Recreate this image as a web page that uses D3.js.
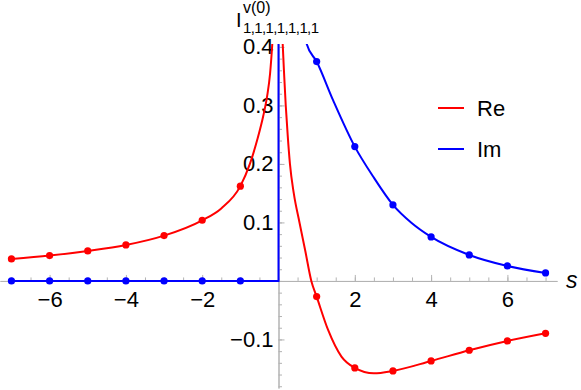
<!DOCTYPE html>
<html>
<head>
<meta charset="utf-8">
<script src="https://cdn.jsdelivr.net/npm/d3@7"></script>
<style>
  body { margin: 0; background: #fff; }
  svg { display: block; font-family: "Liberation Sans", Arial, sans-serif; }
</style>
</head>
<body>
<svg id="chart" width="581" height="390"></svg>
<script>
// sample points (integer s)
const markerS = [-7, -6, -5, -4, -3, -2, -1, 1, 2, 3, 4, 5, 6, 7];
const reMarkers = [0.0376, 0.0433, 0.0513, 0.0615, 0.0775, 0.1037, 0.162, -0.0268, -0.1487, -0.1538, -0.1368, -0.1185, -0.1026, -0.0895];
const imMarkers = [0, 0, 0, 0, 0, 0, 0, 0.375, 0.2296, 0.130, 0.0752, 0.0444, 0.0256, 0.0137];

// curves
const reLeftS = [-7, -6, -5, -4, -3, -2, -1.5, -1, -0.75, -0.55, -0.4, -0.3, -0.22, -0.163, -0.14];
const reLeftV = [0.0376, 0.0433, 0.0513, 0.0615, 0.0775, 0.1037, 0.124, 0.162, 0.200, 0.243, 0.282, 0.315, 0.355, 0.405, 0.43];
const reRightS = [0.095, 0.11, 0.15, 0.19, 0.24, 0.30, 0.40, 0.55, 0.70, 0.86, 1, 1.3, 1.65, 2, 2.5, 3, 4, 5, 6, 7];
const reRightV = [0.43, 0.405, 0.35, 0.30, 0.25, 0.20, 0.15, 0.10, 0.052, 0.0, -0.0268, -0.0838, -0.1294, -0.1487, -0.158, -0.1538, -0.1368, -0.1185, -0.1026, -0.0895];
const imLeftS = [-7, 0, 0];
const imLeftV = [0, 0, 0.43];
const imRightS = [0.70, 0.74, 1, 1.43, 2, 2.485, 3, 3.49, 4, 5, 6, 7];
const imRightV = [0.43, 0.405, 0.375, 0.309, 0.2296, 0.178, 0.130, 0.099, 0.0752, 0.0444, 0.0256, 0.0137];

const xTicks = [-6, -4, -2, 2, 4, 6];
const yTicks = [-0.1, 0.1, 0.2, 0.3, 0.4];
const xMinor = d3.range(-7, 7.01, 0.5);
const yMinor = d3.range(-0.18, 0.401, 0.02);

const seriesNames = ["Re", "Im"];
const seriesColors = ["#ff0000", "#0000ff"];

const svg = d3.select("#chart");

const x = d3.scaleLinear().domain([-7.3, 7.3]).range([0, 557]);
const y = d3.scaleLinear().domain([-0.183, 0.405]).range([388, 44]);

const fmt = d => (d < 0 ? "\u2212" : "") + Math.abs(d);

// axes
const axisColor = "#b3b3b3";

const xAxis = svg.append("g")
  .attr("transform", `translate(0,${y(0)})`)
  .call(d3.axisBottom(x).tickValues(xTicks).tickFormat(fmt).tickSizeInner(-6).tickSizeOuter(0).tickPadding(10));
const xMinorAxis = svg.append("g")
  .attr("transform", `translate(0,${y(0)})`)
  .call(d3.axisBottom(x).tickValues(xMinor).tickFormat("").tickSizeInner(-3.5).tickSizeOuter(0));

const yAxis = svg.append("g")
  .attr("transform", `translate(${x(0)},0)`)
  .call(d3.axisLeft(y).tickValues(yTicks).tickFormat(fmt).tickSizeInner(-6).tickSizeOuter(0).tickPadding(5));
const yMinorAxis = svg.append("g")
  .attr("transform", `translate(${x(0)},0)`)
  .call(d3.axisLeft(y).tickValues(yMinor).tickFormat("").tickSizeInner(-3.5).tickSizeOuter(0));

[xAxis, xMinorAxis, yAxis, yMinorAxis].forEach(g => {
  g.selectAll("path.domain").attr("stroke", axisColor).attr("stroke-width", 1);
  g.selectAll(".tick line").attr("stroke", axisColor);
  g.selectAll("text").attr("fill", "#000").style("font-size", "22px").style("font-family", "Liberation Sans, Arial, sans-serif");
});

// axis labels
svg.append("text")
  .attr("x", 566).attr("y", 288)
  .style("font-size", "23px").style("font-style", "italic")
  .text("s");

const yl = svg.append("g");
yl.append("text").attr("x", 236).attr("y", 27).style("font-size", "20px").text("I");
yl.append("text").attr("x", 243).attr("y", 13).style("font-size", "16px").text("v(0)");
yl.append("text").attr("x", 243).attr("y", 33).style("font-size", "15px")
  .attr("textLength", 76).attr("lengthAdjust", "spacing").text("1,1,1,1,1,1,1");

// clip to plot area
svg.append("clipPath").attr("id", "clip")
  .append("rect").attr("x", 0).attr("y", y.range()[1]).attr("width", 581).attr("height", 390 - y.range()[1]);

const plot = svg.append("g").attr("clip-path", "url(#clip)");

const line = d3.line()
  .x(d => x(d[0]))
  .y(d => y(d[1]));

const smooth = d3.line()
  .x(d => x(d[0]))
  .y(d => y(d[1]))
  .curve(d3.curveMonotoneX);

const curves = [
  { s: reLeftS, v: reLeftV, color: seriesColors[0], gen: smooth },
  { s: reRightS, v: reRightV, color: seriesColors[0], gen: smooth },
  { s: imLeftS, v: imLeftV, color: seriesColors[1], gen: line },
  { s: imRightS, v: imRightV, color: seriesColors[1], gen: smooth }
];

plot.selectAll("path.curve")
  .data(curves)
  .join("path")
  .attr("class", "curve")
  .attr("d", c => c.gen(c.s.map((s, i) => [s, c.v[i]])))
  .attr("fill", "none")
  .attr("stroke", c => c.color)
  .attr("stroke-width", 2);

// markers
const markerSets = [reMarkers, imMarkers];
markerSets.forEach((vals, k) => {
  plot.selectAll(`circle.m${k}`)
    .data(markerS.map((s, i) => [s, vals[i]]))
    .join("circle")
    .attr("class", `m${k}`)
    .attr("cx", d => x(d[0]))
    .attr("cy", d => y(d[1]))
    .attr("r", 3.6)
    .attr("fill", seriesColors[k]);
});

// legend
const legend = svg.append("g").attr("transform", "translate(438,108)");
const items = legend.selectAll("g")
  .data(seriesNames)
  .join("g")
  .attr("transform", (d, i) => `translate(0,${i * 41})`);
items.append("line")
  .attr("x1", 0).attr("x2", 26).attr("y1", 0).attr("y2", 0)
  .attr("stroke", (d, i) => seriesColors[i]).attr("stroke-width", 2);
items.append("text")
  .attr("x", 39).attr("y", 8)
  .style("font-size", "22px")
  .text(d => d);
</script>
</body>
</html>
